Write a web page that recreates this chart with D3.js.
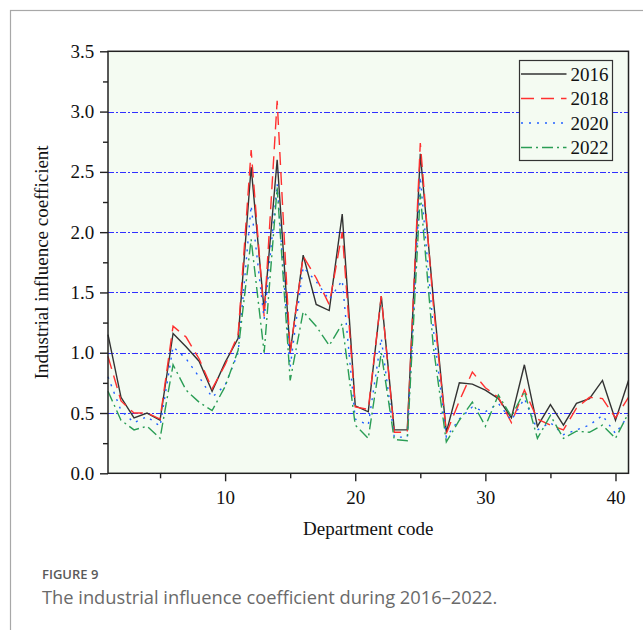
<!DOCTYPE html>
<html>
<head>
<meta charset="utf-8">
<script src="https://cdn.jsdelivr.net/npm/d3@7"></script>
<style>
  body { margin: 0; background: #fff; }
  svg { display: block; }
</style>
</head>
<body>
<svg id="canvas" width="643" height="630"></svg>
<script>
// department codes 1..41
const codes = d3.range(1, 42)
const years = ["2016", "2018", "2020", "2022"]
const v2016 = [1.15,0.63,0.46,0.50,0.44,1.16,1.05,0.93,0.68,0.92,1.12,2.54,1.35,2.60,1.00,1.81,1.40,1.35,2.15,0.56,0.51,1.47,0.36,0.36,2.65,1.45,0.34,0.75,0.74,0.69,0.62,0.46,0.90,0.39,0.57,0.40,0.58,0.62,0.77,0.44,0.77]
const v2018 = [0.97,0.60,0.50,0.50,0.45,1.22,1.13,0.95,0.70,0.90,1.15,2.68,1.30,3.09,1.00,1.80,1.62,1.40,2.00,0.55,0.53,1.47,0.34,0.34,2.74,1.40,0.33,0.60,0.84,0.71,0.63,0.42,0.69,0.45,0.40,0.36,0.54,0.63,0.62,0.46,0.63]
const v2020 = [0.80,0.52,0.42,0.47,0.39,1.05,0.95,0.80,0.63,0.73,1.00,2.22,1.28,2.40,0.88,1.71,1.59,1.44,1.60,0.45,0.40,1.12,0.30,0.30,2.46,1.20,0.30,0.45,0.55,0.51,0.58,0.44,0.62,0.36,0.42,0.32,0.36,0.40,0.48,0.33,0.48]
const v2022 = [0.68,0.44,0.36,0.39,0.29,0.90,0.69,0.59,0.52,0.72,1.02,1.94,1.00,2.37,0.77,1.34,1.22,1.06,1.24,0.40,0.29,1.00,0.28,0.27,2.32,1.05,0.26,0.44,0.59,0.39,0.65,0.47,0.68,0.29,0.48,0.29,0.35,0.34,0.40,0.29,0.50]
const xTicks = [10, 20, 30, 40]
const yTicks = [0, 0.5, 1.0, 1.5, 2.0, 2.5, 3.0, 3.5]
const gridValues = [0.5, 1.0, 1.5, 2.0, 2.5, 3.0]

const seriesValues = [v2016, v2018, v2020, v2022]
const colors = ["#333333", "#ff3030", "#2060ff", "#2a9d55"]
const dashes = [null, "13,7", "2,6", "11,4,2,4"]

const svg = d3.select("#canvas")
const serif = "'Liberation Serif', 'Times New Roman', serif"

// card frame
svg.append("rect")
    .attr("x", 10.5).attr("y", 10.5)
    .attr("width", 700).attr("height", 700)
    .attr("fill", "none")
    .attr("stroke", "#a8a8a8")
    .attr("stroke-width", 1.2)

const pLeft = 108, pRight = 628.5, pTop = 51.3, pBottom = 473.3

const x = d3.scaleLinear().domain([1, 41]).range([pLeft, pRight])
const y = d3.scaleLinear().domain([0, 3.5]).range([pBottom, pTop])

svg.append("rect")
    .attr("x", pLeft).attr("y", pTop)
    .attr("width", pRight - pLeft).attr("height", pBottom - pTop)
    .attr("fill", "#f4fbf2")

// grid
svg.selectAll(".grid")
    .data(gridValues)
    .enter()
    .append("line")
    .attr("class", "grid")
    .attr("x1", pLeft).attr("x2", pRight)
    .attr("y1", d => Math.round(y(d)) + 0.5).attr("y2", d => Math.round(y(d)) + 0.5)
    .attr("stroke", "#3030ff")
    .attr("stroke-width", 1)
    .attr("stroke-dasharray", "6,2,2,2")

// lines
const line = d3.line()
    .x((d, i) => x(codes[i]))
    .y(d => y(d))

svg.append("g")
    .selectAll("path")
    .data(seriesValues)
    .enter()
    .append("path")
    .attr("d", d => line(d))
    .attr("fill", "none")
    .attr("stroke", (d, i) => colors[i])
    .attr("stroke-width", 1.4)
    .attr("stroke-dasharray", (d, i) => dashes[i])

// axes
const xAxis = d3.axisBottom(x).tickValues(xTicks).tickSize(8).tickSizeOuter(0).tickFormat(d3.format("d"))
const xMinor = d3.axisBottom(x).tickValues([5, 15, 25, 35]).tickSize(5).tickSizeOuter(0).tickFormat("")
const yAxis = d3.axisLeft(y).tickValues(yTicks).tickSize(8).tickSizeOuter(0).tickFormat(d3.format(".1f"))
const yMinor = d3.axisLeft(y).tickValues(d3.range(0.25, 3.5, 0.5)).tickSize(5).tickSizeOuter(0).tickFormat("")

const gx = svg.append("g").attr("transform", `translate(0,${pBottom})`).call(xAxis)
svg.append("g").attr("transform", `translate(0,${pBottom})`).call(xMinor)
const gy = svg.append("g").attr("transform", `translate(${pLeft},0)`).call(yAxis)
svg.append("g").attr("transform", `translate(${pLeft},0)`).call(yMinor)

svg.selectAll(".domain").remove()
svg.selectAll(".tick line").attr("stroke", "#222").attr("stroke-width", 1.4)
gx.selectAll("text").attr("font-family", serif).attr("font-size", 19).attr("fill", "#111").attr("dy", "1.05em")
gy.selectAll("text").attr("font-family", serif).attr("font-size", 19).attr("fill", "#111").attr("dx", "-0.15em")

// plot frame
svg.append("rect")
    .attr("x", pLeft).attr("y", pTop)
    .attr("width", pRight - pLeft).attr("height", pBottom - pTop)
    .attr("fill", "none")
    .attr("stroke", "#222")
    .attr("stroke-width", 1.5)

// axis titles
svg.append("text")
    .attr("x", (pLeft + pRight) / 2).attr("y", 535)
    .attr("text-anchor", "middle")
    .attr("font-family", serif).attr("font-size", 19).attr("fill", "#111")
    .text("Department code")

svg.append("text")
    .attr("transform", `translate(48,${(pTop + pBottom) / 2}) rotate(-90)`)
    .attr("text-anchor", "middle")
    .attr("font-family", serif).attr("font-size", 19).attr("fill", "#111")
    .text("Industrial influence coefficient")

// legend
const legend = svg.append("g").attr("transform", "translate(519.5,60.5)")
legend.append("rect")
    .attr("width", 93).attr("height", 100)
    .attr("fill", "#f4fbf2")
    .attr("stroke", "#333").attr("stroke-width", 1.2)
const items = legend.selectAll(".item")
    .data(years)
    .enter()
    .append("g")
    .attr("class", "item")
    .attr("transform", (d, i) => `translate(0,${13.5 + i * 24.5})`)
items.append("line")
    .attr("x1", 1.5).attr("x2", 47)
    .attr("stroke", (d, i) => colors[i])
    .attr("stroke-width", 1.4)
    .attr("stroke-dasharray", (d, i) => dashes[i])
items.append("text")
    .attr("x", 51).attr("y", 6.5)
    .attr("font-family", serif).attr("font-size", 19).attr("fill", "#111")
    .text(d => d)

// caption
svg.append("text")
    .attr("x", 42).attr("y", 579)
    .attr("font-family", "'Open Sans', sans-serif").attr("font-size", 13)
    .attr("font-weight", 600).attr("fill", "#5a5a5a")
    .text("FIGURE 9")
svg.append("text")
    .attr("x", 42).attr("y", 604)
    .attr("font-family", "'Open Sans', sans-serif").attr("font-size", 18.3)
    .attr("fill", "#6a6a6a")
    .text("The industrial influence coefficient during 2016\u20132022.")
</script>
</body>
</html>
